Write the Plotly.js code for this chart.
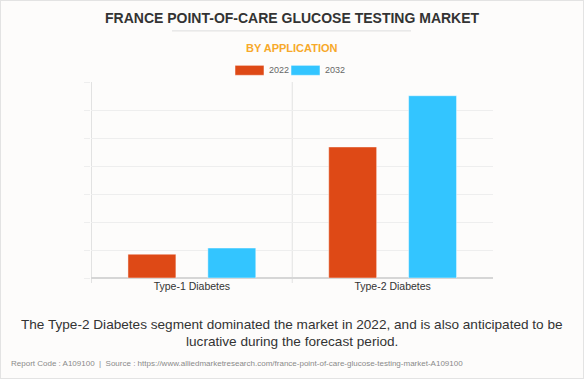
<!DOCTYPE html>
<html>
<head>
<meta charset="utf-8">
<script src="https://cdn.plot.ly/plotly-3.0.1.min.js"></script>
<style>
  html, body { margin: 0; padding: 0; background: #fdfcfb; }
  #wrap { position: relative; width: 584px; height: 379px; }
  #chart { width: 584px; height: 379px; }
  #frame { position: absolute; left: 0; top: 0; width: 582px; height: 377px; border: 1px solid #e3e3e3; pointer-events: none; }
</style>
</head>
<body>
<div id="wrap"><div id="chart"></div><div id="frame"></div></div>
<script>
// ---- data ----
const categories = ["Type-1 Diabetes", "Type-2 Diabetes"];
const seriesNames = ["2022", "2032"];
const values2022 = [0.85, 4.68];
const values2032 = [1.07, 6.51];
const seriesColors = ["#de4916", "#33c5ff"];

const titleText = "FRANCE POINT-OF-CARE GLUCOSE TESTING MARKET";
const subtitleText = "BY APPLICATION";
const captionLines = ["The Type-2 Diabetes segment dominated the market in 2022, and is also anticipated to be",
                      "lucrative during the forecast period."];
const footerText = "Report Code : A109100  |  Source : https://www.alliedmarketresearch.com/france-point-of-care-glucose-testing-market-A109100";

// ---- layout geometry ----
const W = 584, H = 379;
const L = 91, R = 493, T = 81.7, B = 278;
const px2x = px => (px - L) / (R - L);
const px2y = py => (B - py) / (B - T);

const seriesValues = [values2022, values2032];
const traces = seriesNames.map((n, i) => ({
  type: "bar",
  name: n,
  x: categories,
  y: seriesValues[i],
  marker: { color: seriesColors[i], line: { color: "rgba(255,255,255,0.45)", width: 1 } },
  hoverinfo: "x+y+name"
}));

const shapes = [];
const annotations = [];

// title underline
shapes.push({ type: "line", xref: "paper", yref: "paper", x0: px2x(172), x1: px2x(411), y0: px2y(30.5), y1: px2y(30.5),
  line: { color: "#dddddd", width: 1 } });

// vertical category separators
[-0.5, 0.5].forEach(v => shapes.push({ type: "line", xref: "x", yref: "paper", x0: v, x1: v, y0: px2y(283), y1: 1,
  line: { color: "#e2e2e2", width: 1 }, layer: "below" }));

// legend
const legendBoxes = [[235, 264], [291, 320]];
seriesNames.forEach((n, i) => {
  const [a, b] = legendBoxes[i];
  shapes.push({ type: "rect", xref: "paper", yref: "paper", x0: px2x(a), x1: px2x(b), y0: px2y(75), y1: px2y(65),
    fillcolor: seriesColors[i], line: { color: "rgba(255,255,255,0.5)", width: 1 } });
  annotations.push({ xref: "paper", yref: "paper", x: px2x(b + 3), y: px2y(70), xanchor: "left", yanchor: "middle",
    text: n, showarrow: false, font: { family: "Liberation Sans, Arial, sans-serif", size: 9, color: "#666" } });
});

// titles
annotations.push({ xref: "paper", yref: "paper", x: px2x(292), y: px2y(17.5), xanchor: "center", yanchor: "middle",
  text: "<b>" + titleText + "</b>", showarrow: false,
  font: { family: "Liberation Sans, Arial, sans-serif", size: 14, color: "#333333" } });
annotations.push({ xref: "paper", yref: "paper", x: px2x(292), y: px2y(48), xanchor: "center", yanchor: "middle",
  text: "<b>" + subtitleText + "</b>", showarrow: false,
  font: { family: "Liberation Sans, Arial, sans-serif", size: 11, color: "#f7a92a" } });

// caption
const capY = [325, 341.5];
captionLines.forEach((t, i) => annotations.push({ xref: "paper", yref: "paper", x: px2x(292), y: px2y(capY[i]),
  xanchor: "center", yanchor: "middle", text: t, showarrow: false,
  font: { family: "Liberation Sans, Arial, sans-serif", size: 13.6, color: "#333333" } }));

// footer
annotations.push({ xref: "paper", yref: "paper", x: px2x(9), y: px2y(363.5), xanchor: "left", yanchor: "middle",
  text: footerText, showarrow: false,
  font: { family: "Liberation Sans, Arial, sans-serif", size: 8, color: "#8a8a8a" } });

const layout = {
  width: W, height: H,
  margin: { l: L, r: W - R, t: T, b: H - B, pad: 0 },
  paper_bgcolor: "#fdfcfb",
  plot_bgcolor: "#fdfcfb",
  showlegend: false,
  barmode: "group",
  bargap: 0.204,
  bargroupgap: 0.4,
  font: { family: "Liberation Sans, Arial, sans-serif", color: "#333" },
  xaxis: {
    type: "category",
    showgrid: false,
    showline: false,
    ticks: "",
    tickfont: { size: 10.5, color: "#333333" },
    automargin: false
  },
  yaxis: {
    range: [0, 7],
    dtick: 1,
    showticklabels: false,
    showgrid: true,
    gridcolor: "#eeeeee",
    gridwidth: 1,
    ticks: "outside",
    ticklen: 6,
    tickcolor: "#eeeeee",
    zeroline: true,
    zerolinecolor: "#d6d6d6",
    zerolinewidth: 2,
    fixedrange: true,
    automargin: false
  },
  shapes: shapes,
  annotations: annotations
};

Plotly.newPlot("chart", traces, layout, { displayModeBar: false, staticPlot: true });
</script>
</body>
</html>
